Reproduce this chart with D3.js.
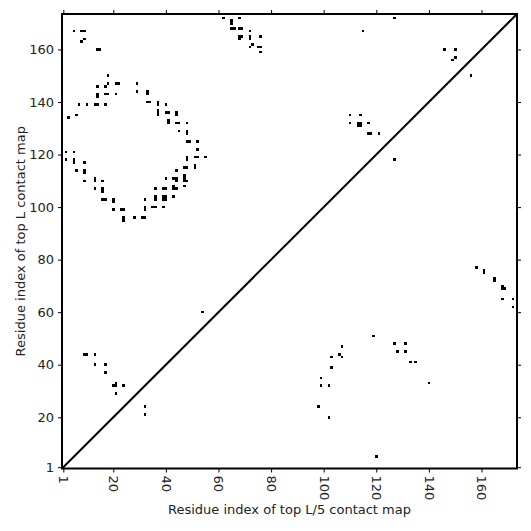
<!DOCTYPE html>
<html>
<head>
<meta charset="utf-8">
<script src="https://cdn.jsdelivr.net/npm/d3@7"></script>
<style>
  body { margin: 0; background: #fff; }
  text { font-family: "DejaVu Sans", sans-serif; }
</style>
</head>
<body>
<div id="chart"></div>
<script>
var svgWidth = 531;
var svgHeight = 531;

var margin = { top: 14, right: 14, bottom: 62.5, left: 62 };
var width = svgWidth - margin.left - margin.right;
var height = svgHeight - margin.top - margin.bottom;

var seqLength = 173;
var tickValues = [1, 20, 40, 60, 80, 100, 120, 140, 160];

// upper-left triangle: top L contacts [i, j]
var topLContacts = [
  [62,172],[65,171],[65,170],[68,172],[65,168],[66,168],[68,168],[69,168],[68,165],[69,165],
  [68,164],[72,167],[72,165],[72,164],[72,161],[75,161],[76,161],[76,165],[76,159],[73,162],
  [115,167],[127,172],[146,160],[150,160],[150,157],[149,156],[156,150],
  [110,135],[114,135],[110,132],[113,132],[114,132],[113,131],[114,131],[117,132],[117,128],[118,128],[121,128],[127,118],
  [5,167],[8,167],[9,167],[8,163],[9,164],[14,160],[15,160],[18,150],[14,146],[17,146],[18,147],
  [21,147],[22,147],[29,147],[14,142],[14,143],[17,143],[18,143],[21,143],[29,144],[33,143],
  [33,144],[7,139],[10,139],[13,139],[14,139],[17,139],[33,140],[34,140],[37,139],[37,140],
  [40,139],[37,135],[37,136],[37,137],[40,136],[41,136],[44,135],[44,136],[41,132],[41,133],
  [44,132],[45,132],[48,132],[45,129],[48,128],[48,129],[48,125],[49,125],[52,125],[52,122],
  [48,118],[48,119],[51,119],[52,119],[55,119],[51,115],[51,116],[47,115],[48,115],[44,114],
  [40,111],[43,111],[44,111],[44,110],[47,111],[47,112],[47,110],[48,110],[47,108],[36,107],
  [39,107],[40,107],[43,107],[43,108],[44,107],[43,104],[39,103],[40,103],[39,104],[40,104],
  [36,103],[36,104],[35,100],[36,100],[39,100],[32,99],[32,100],[32,103],[31,96],[32,96],
  [28,96],[24,95],[24,96],[23,99],[24,99],[20,99],[20,102],[20,103],[16,103],[17,103],
  [16,106],[16,107],[13,107],[16,110],[13,110],[13,111],[9,110],[6,114],[9,113],[9,114],
  [9,117],[5,117],[5,118],[2,118],[2,121],[5,121],[3,134],[6,135],
  [9,44],[10,44],[13,44],[13,40],[17,40],[17,37],[20,32],[21,32],[21,33],[24,32],[21,29],
  [32,24],[32,21],[54,60]
];

// lower-right triangle: top L/5 contacts [i, j]
var topL5Contacts = [
  [119,51],[107,47],[103,43],[106,44],[107,43],[103,39],[99,35],[99,32],[102,32],[98,24],
  [102,20],[120,5],[127,48],[131,48],[128,45],[131,45],[133,41],[135,41],[140,33],[158,77],
  [161,76],[161,75],[165,73],[165,72],[168,69],[169,69],[168,70],[168,65],[172,65],[172,62]
];

var svg = d3.select("#chart")
  .append("svg")
  .attr("width", svgWidth)
  .attr("height", svgHeight);

var chartGroup = svg.append("g")
  .attr("transform", `translate(${margin.left}, ${margin.top})`);

var xScale = d3.scaleLinear()
  .domain([0.5, seqLength + 0.5])
  .range([0, width]);

var yScale = d3.scaleLinear()
  .domain([0.5, seqLength + 0.5])
  .range([height, 0]);

// contact cells
var allContacts = topLContacts.concat(topL5Contacts);
chartGroup.selectAll("rect.cell")
  .data(allContacts)
  .enter()
  .append("rect")
  .attr("class", "cell")
  .attr("x", d => xScale(d[0] - 0.5))
  .attr("y", d => yScale(d[1] + 0.5))
  .attr("width", xScale(1.5) - xScale(0.5))
  .attr("height", yScale(0.5) - yScale(1.5))
  .attr("fill", "#000")
  .attr("shape-rendering", "crispEdges");

// diagonal
chartGroup.append("line")
  .attr("x1", xScale(0.5))
  .attr("y1", yScale(0.5))
  .attr("x2", xScale(seqLength + 0.5))
  .attr("y2", yScale(seqLength + 0.5))
  .attr("stroke", "#000")
  .attr("stroke-width", 2);

// axes
var bottomAxis = d3.axisBottom(xScale).tickValues(tickValues).tickSize(4).tickPadding(4);
var leftAxis = d3.axisLeft(yScale).tickValues(tickValues).tickSize(4).tickPadding(4);
var topAxis = d3.axisTop(xScale).tickValues(tickValues).tickSize(4).tickFormat("");
var rightAxis = d3.axisRight(yScale).tickValues(tickValues).tickSize(4).tickFormat("");

var xAxis = chartGroup.append("g")
  .attr("transform", `translate(0, ${height})`)
  .call(bottomAxis);

xAxis.selectAll("text")
  .attr("transform", "rotate(90)")
  .attr("x", 7)
  .attr("y", 0)
  .attr("dy", "0.35em")
  .style("text-anchor", "start");

var yAxis = chartGroup.append("g").call(leftAxis);
chartGroup.append("g").call(topAxis);
chartGroup.append("g").attr("transform", `translate(${width}, 0)`).call(rightAxis);

chartGroup.selectAll(".domain").remove();
chartGroup.selectAll(".tick line").attr("stroke", "#000").attr("stroke-width", 1);
chartGroup.selectAll(".tick text")
  .attr("fill", "#222")
  .style("font-size", "13px")
  .style("font-family", "'DejaVu Sans', sans-serif");

// frame
chartGroup.append("rect")
  .attr("x", 0)
  .attr("y", 0)
  .attr("width", width)
  .attr("height", height)
  .attr("fill", "none")
  .attr("stroke", "#000")
  .attr("stroke-width", 2);

// axis labels
svg.append("text")
  .attr("x", margin.left + width / 2)
  .attr("y", 514)
  .attr("text-anchor", "middle")
  .style("font-size", "13px")
  .attr("fill", "#222")
  .text("Residue index of top L/5 contact map");

svg.append("text")
  .attr("transform", `translate(25, ${margin.top + height / 2}) rotate(-90)`)
  .attr("text-anchor", "middle")
  .style("font-size", "13px")
  .attr("fill", "#222")
  .text("Residue index of top L contact map");
</script>
</body>
</html>
